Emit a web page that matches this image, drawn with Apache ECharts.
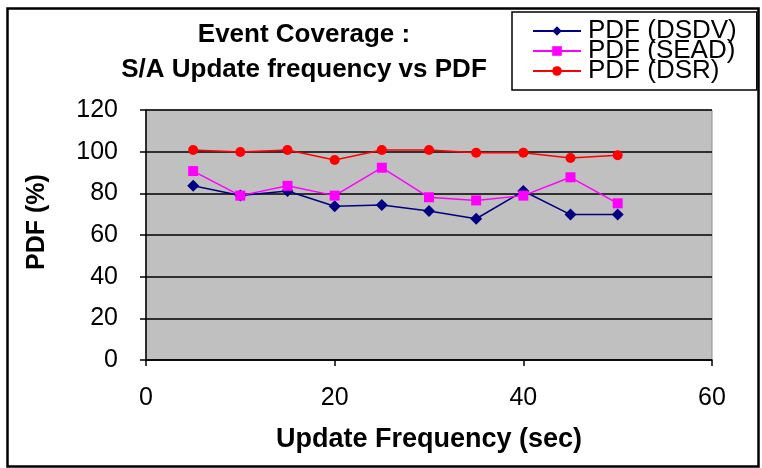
<!DOCTYPE html>
<html><head><meta charset="utf-8">
<script src="https://cdn.jsdelivr.net/npm/echarts@6/dist/echarts.min.js"></script>
<style>html,body{margin:0;padding:0;background:#fff}#c{width:762px;height:468px}</style>
</head><body><div id="c"></div>
<script>
const xValues = [5, 10, 15, 20, 25, 30, 35, 40, 45, 50];
const dsdv = [83.6, 79, 81.1, 73.8, 74.4, 71.5, 67.8, 81.1, 69.8, 69.8];
const sead = [90.7, 78.9, 83.6, 78.9, 92.3, 78.1, 76.6, 78.9, 87.7, 75.2];
const dsr  = [100.8, 99.8, 100.8, 96, 100.8, 100.8, 99.5, 99.5, 97, 98.3];
const seriesNames = ['PDF (DSDV)', 'PDF (SEAD)', 'PDF (DSR)'];
const titleLines = ['Event Coverage :', 'S/A Update frequency vs PDF'];

const pair = v => xValues.map((x, i) => [x, v[i]]);
const F = 'Liberation Sans, Arial, sans-serif';
const chart = echarts.init(document.getElementById('c'));
chart.setOption({
  animation: false,
  backgroundColor: '#fff',
  title: {
    text: titleLines.join('\n'),
    left: 299, top: 12, textAlign: 'center',
    textStyle: { fontFamily: F, fontWeight: 'bold', fontSize: 26, lineHeight: 35, color: '#000' }
  },
  legend: {
    orient: 'vertical', left: 512, top: 12,
    data: seriesNames,
    borderColor: '#000', borderWidth: 1.5, backgroundColor: '#fff',
    padding: [6, 20, 6, 20], itemGap: -6, itemWidth: 48, itemHeight: 12,
    textStyle: { fontFamily: F, fontSize: 26, color: '#000', padding: [0, 0, 0, 2] }
  },
  grid: { left: 146, right: 50, top: 110, bottom: 108, show: true, backgroundColor: '#C0C0C0', borderColor: '#909090', borderWidth: 1 },
  xAxis: {
    type: 'value', min: 0, max: 60, interval: 20,
    name: 'Update Frequency (sec)', nameLocation: 'middle', nameGap: 66,
    nameTextStyle: { fontFamily: F, fontWeight: 'bold', fontSize: 27, color: '#000' },
    axisLine: { lineStyle: { color: '#000', width: 1.5 } },
    axisTick: { show: true, length: 6, lineStyle: { color: '#000', width: 1.5 } },
    axisLabel: { fontFamily: F, fontSize: 25, color: '#000', margin: 26 },
    splitLine: { show: false }
  },
  yAxis: {
    type: 'value', min: 0, max: 120, interval: 20,
    name: 'PDF (%)', nameLocation: 'middle', nameGap: 96, nameRotate: 90,
    nameTextStyle: { fontFamily: F, fontWeight: 'bold', fontSize: 25, color: '#000', padding: [0, 0, 0, 26] },
    axisLine: { show: true, lineStyle: { color: '#000', width: 1.5 } },
    axisTick: { show: true, length: 6, lineStyle: { color: '#000', width: 1.5 } },
    axisLabel: { fontFamily: F, fontSize: 25, color: '#000', margin: 28 },
    splitLine: { show: true, lineStyle: { color: '#000', width: 1.5 } }
  },
  graphic: [{
    type: 'rect', left: 5, top: 6, shape: { width: 751, height: 458 },
    style: { fill: 'none', stroke: '#000', lineWidth: 2.5 }, silent: true, z: -1
  }],
  series: [
    { name: seriesNames[0], type: 'line', data: pair(dsdv), symbol: 'diamond', symbolSize: 12,
      itemStyle: { color: '#000080' }, lineStyle: { color: '#000080', width: 1.5 } },
    { name: seriesNames[1], type: 'line', data: pair(sead), symbol: 'rect', symbolSize: 10,
      itemStyle: { color: '#FF00FF' }, lineStyle: { color: '#FF00FF', width: 1.5 } },
    { name: seriesNames[2], type: 'line', data: pair(dsr), symbol: 'circle', symbolSize: 10,
      itemStyle: { color: '#FF0000' }, lineStyle: { color: '#FF0000', width: 1.5 } }
  ]
});
</script></body></html>
